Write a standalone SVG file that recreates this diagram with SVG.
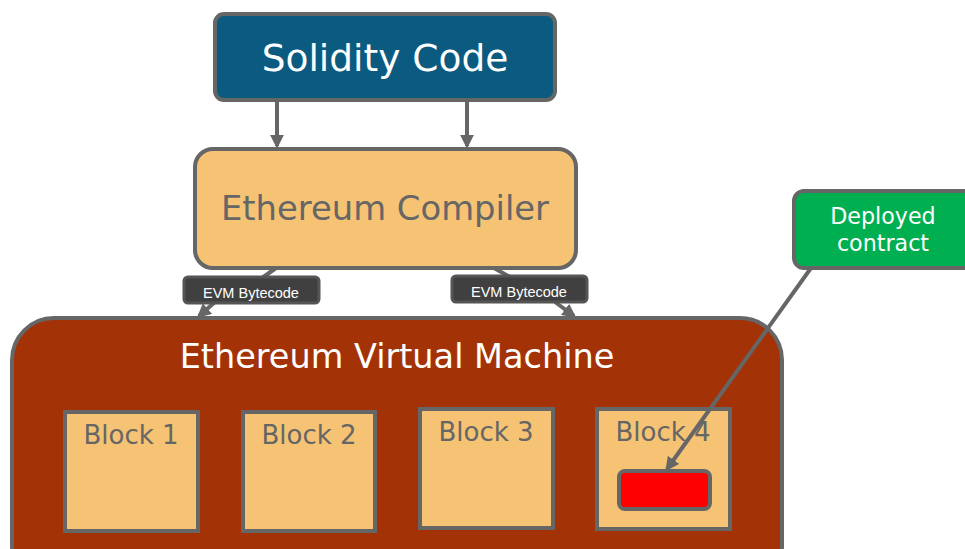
<svg xmlns="http://www.w3.org/2000/svg" width="965" height="549" viewBox="0 0 965 549">
<style>
.box{stroke:#666;stroke-width:4}
.blk{fill:#f5c373;stroke:#666;stroke-width:4}
.conn{stroke:#666;stroke-width:4;fill:none}
.t{font-family:"DejaVu Sans",Verdana,sans-serif;text-anchor:middle}
.lbl{fill:#404040;stroke:#555;stroke-width:3}
.lt{font-family:"Liberation Sans",Arial,sans-serif;font-size:14.5px;fill:#fff;text-anchor:middle}
</style>
<defs>
<marker id="ah" viewBox="0 0 10 10" refX="8" refY="5" markerWidth="3.5" markerHeight="3.5" orient="auto" markerUnits="strokeWidth">
<path d="M0,0 L10,5 L0,10 z" fill="#666"/>
</marker>
</defs>
<rect width="965" height="549" fill="#fff"/>
<g id="evm">
<rect class="box" x="12" y="318" width="770" height="270" rx="42" fill="#a33206"/>
<text class="t" x="397" y="368" font-size="33.5" fill="#fff">Ethereum Virtual Machine</text>
</g>
<g id="block1"><rect class="blk" x="65" y="412" width="133" height="119"/><text class="t" x="131" y="444" font-size="26" fill="#666">Block 1</text></g>
<g id="block2"><rect class="blk" x="243" y="412" width="132" height="119"/><text class="t" x="309" y="444" font-size="26" fill="#666">Block 2</text></g>
<g id="block3"><rect class="blk" x="420" y="409" width="133" height="119"/><text class="t" x="486" y="441" font-size="26" fill="#666">Block 3</text></g>
<g id="block4"><rect class="blk" x="597" y="409" width="133" height="120"/><text class="t" x="663" y="441" font-size="26" fill="#666">Block 4</text>
<rect x="619" y="471" width="91" height="38" rx="6" fill="#ff0000" stroke="#666" stroke-width="4"/></g>
<g id="solidity">
<rect class="box" x="215" y="14" width="340" height="86" rx="9" fill="#0b5a80"/>
<text class="t" x="385" y="71" font-size="37.5" fill="#fff">Solidity Code</text>
</g>
<g id="compiler">
<rect class="box" x="195" y="149" width="381" height="119" rx="18" fill="#f5c373"/>
<text class="t" x="385" y="220" font-size="33.8" fill="#666">Ethereum Compiler</text>
</g>
<g id="deployed">
<rect class="box" x="794" y="191" width="180" height="77" rx="10" fill="#00b050"/>
<text class="t" x="883" y="224" font-size="22.2" fill="#fff">Deployed</text>
<text class="t" x="883" y="251" font-size="22.2" fill="#fff">contract</text>
</g>
<g id="connectors">
<line class="conn" x1="277" y1="100" x2="277" y2="146" marker-end="url(#ah)"/>
<line class="conn" x1="467" y1="100" x2="467" y2="146" marker-end="url(#ah)"/>
<line class="conn" x1="276" y1="268" x2="262" y2="278"/>
<line class="conn" x1="215" y1="302" x2="199" y2="316" marker-end="url(#ah)"/>
<line class="conn" x1="494" y1="268" x2="510" y2="277"/>
<line class="conn" x1="555" y1="302" x2="574" y2="316" marker-end="url(#ah)"/>
<line class="conn" x1="811" y1="268" x2="667" y2="469" marker-end="url(#ah)"/>
</g>
<g id="label1"><rect class="lbl" x="184" y="277" width="135" height="26" rx="4"/><text class="lt" x="251" y="298">EVM Bytecode</text></g>
<g id="label2"><rect class="lbl" x="452" y="276" width="135" height="26" rx="4"/><text class="lt" x="519" y="297">EVM Bytecode</text></g>
</svg>
